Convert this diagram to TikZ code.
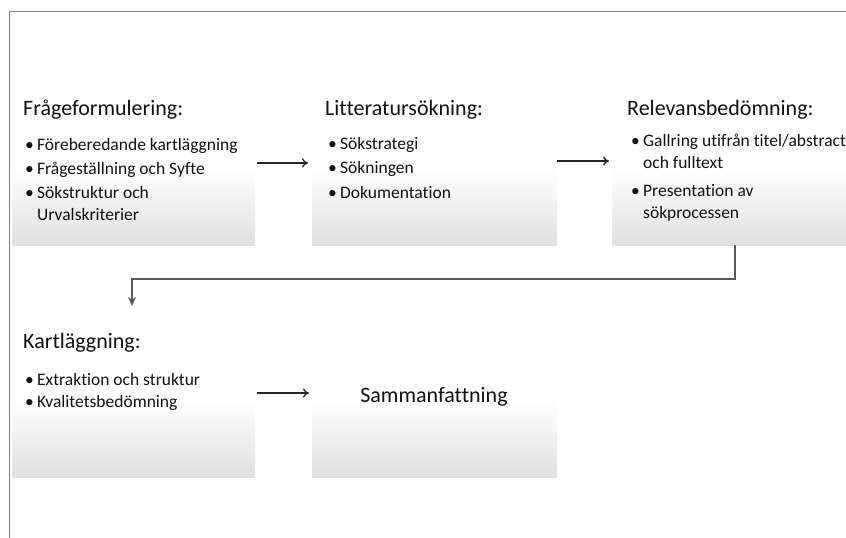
\documentclass[tikz,border=0pt]{standalone}
\usepackage{fontspec}
\setmainfont{Carlito}[Ligatures=NoCommon]
\usetikzlibrary{calc,arrows.meta}
\definecolor{boxbot}{HTML}{E0E0E0}
\definecolor{txt}{HTML}{111111}
\definecolor{framec}{HTML}{808080}
\pgfdeclareverticalshading{boxshade}{100bp}{color(0bp)=(boxbot); color(25bp)=(boxbot); color(52bp)=(white); color(100bp)=(white)}
\newcommand\bul{\makebox[12pt][l]{\textbullet}}
\begin{document}
\begin{tikzpicture}[x=1pt,y=-1pt,
  box/.style={rectangle, inner sep=0pt, outer sep=0pt, shading=boxshade, anchor=north west, minimum width=243pt, minimum height=145pt},
  ttl/.style={anchor=base west, inner sep=0pt, font=\fontsize{22}{26}\selectfont, text=txt},
  itm/.style={anchor=base west, inner sep=0pt, font=\fontsize{17.5}{22}\selectfont, text=txt},
  arr/.style={-{To[length=6pt,width=9pt]}, line width=1.3pt, black!85},
  elb/.style={-{Stealth[length=9pt,width=8pt]}, line width=1.8pt, black!65},
  frame/.style={line width=1.5pt, framec}
]
\useasboundingbox (0,0) rectangle (846,538);
\clip (0,0) rectangle (846,538);
\fill[white] (0,0) rectangle (846,538);
% boxes
\node[box] (b1) at (12,100) {};
\node[box, minimum width=245pt] (b2) at (312,100) {};
\node[box, minimum width=245pt] (b3) at (612,100) {};
\node[box] (b4) at (12,332) {};
\node[box, minimum width=245pt] (b5) at (312,332) {};
% frame
\draw[frame] (9.5,538) -- (9.5,11.5) -- (846,11.5);
% box 1
\node[ttl] (t1) at (23,115) {Frågeformulering:};
\node[itm] (i11) at (25,150) {\bul Föreberedande kartläggning};
\node[itm] (i12) at (25,174) {\bul Frågeställning och Syfte};
\node[itm] (i13) at (25,198) {\bul\begin{tabular}[t]{@{}l@{}}Sökstruktur och\\Urvalskriterier\end{tabular}};
% box 2
\node[ttl] (t2) at (325,115) {Litteratursökning:};
\node[itm] (i21) at (328,149) {\bul Sökstrategi};
\node[itm] (i22) at (328,173) {\bul Sökningen};
\node[itm] (i23) at (328,198) {\bul Dokumentation};
% box 3
\node[ttl] (t3) at (627,115) {Relevansbedömning:};
\node[itm] (i31) at (631,146) {\bul\begin{tabular}[t]{@{}l@{}}Gallring utifrån titel/abstract\\och fulltext\end{tabular}};
\node[itm] (i32) at (631,196) {\bul\begin{tabular}[t]{@{}l@{}}Presentation av\\sökprocessen\end{tabular}};
% box 4
\node[ttl] (t4) at (23,348) {Kartläggning:};
\node[itm] (i41) at (25,385) {\bul Extraktion och struktur};
\node[itm] (i42) at (25,407) {\bul Kvalitetsbedömning};
% box 5
\node[ttl, anchor=base] (t5) at (434,402) {Sammanfattning};
% connectors
\draw[arr] ($(b1.north east)+(2,63)$) -- ($(b2.north west)+(-4,63)$);
\draw[arr] ($(b2.north east)+(0,61)$) -- ($(b3.north west)+(-3,61)$);
\coordinate (e1) at (132,306);
\draw[elb] ($(b3.south west)+(123,0)$) -- ++(0,34) -| (e1);
\draw[arr] ($(b4.north east)+(2,61)$) -- ($(b5.north west)+(-3,61)$);
\end{tikzpicture}
\end{document}
